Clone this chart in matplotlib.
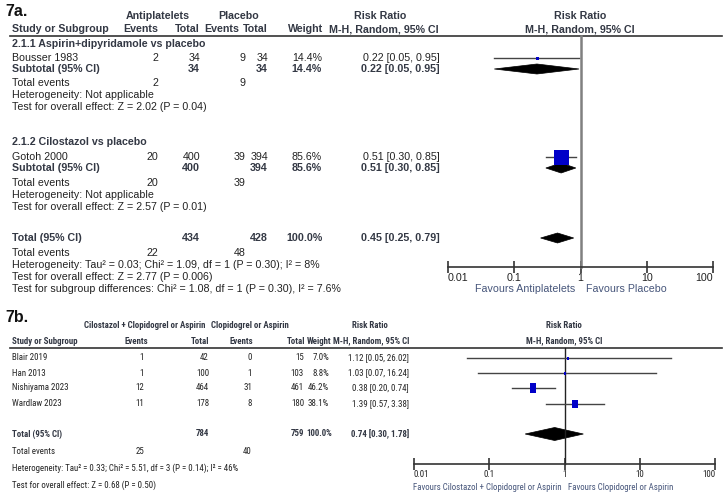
import matplotlib
matplotlib.use("Agg")
import matplotlib.pyplot as plt
from matplotlib.patches import Polygon
from matplotlib.path import Path
from matplotlib.ticker import NullLocator
from matplotlib import font_manager as fm
from matplotlib.font_manager import FontProperties
import logging
logging.getLogger('matplotlib.font_manager').setLevel(logging.ERROR)

# ---------------- data: 7a ----------------
a_groups = ["2.1.1 Aspirin+dipyridamole vs placebo", "2.1.2 Cilostazol vs placebo"]
a_studies = ["Bousser 1983", "Gotoh 2000"]
a_ev_t = [2, 20]
a_tot_t = [34, 400]
a_ev_c = [9, 39]
a_tot_c = [34, 394]
a_weight = [14.4, 85.6]
a_rr = [0.22, 0.51]
a_lo = [0.05, 0.30]
a_hi = [0.95, 0.85]
a_sub_z = ["Test for overall effect: Z = 2.02 (P = 0.04)", "Test for overall effect: Z = 2.57 (P = 0.01)"]
a_total = [0.45, 0.25, 0.79]
a_total_n = [434, 428]
a_total_ev = [22, 48]
a_foot = ["Heterogeneity: Tau\u00b2 = 0.03; Chi\u00b2 = 1.09, df = 1 (P = 0.30); I\u00b2 = 8%",
          "Test for overall effect: Z = 2.77 (P = 0.006)",
          "Test for subgroup differences: Chi\u00b2 = 1.08, df = 1 (P = 0.30), I\u00b2 = 7.6%"]

# ---------------- data: 7b ----------------
b_studies = ["Blair 2019", "Han 2013", "Nishiyama 2023", "Wardlaw 2023"]
b_ev_t = [1, 1, 12, 11]
b_tot_t = [42, 100, 464, 178]
b_ev_c = [0, 1, 31, 8]
b_tot_c = [15, 103, 461, 180]
b_weight = [7.0, 8.8, 46.2, 38.1]
b_rr = [1.12, 1.03, 0.38, 1.39]
b_lo = [0.05, 0.07, 0.20, 0.57]
b_hi = [26.02, 16.24, 0.74, 3.38]
b_total = [0.74, 0.30, 1.78]
b_total_n = [784, 759]
b_total_ev = [25, 40]
b_foot = ["Heterogeneity: Tau\u00b2 = 0.33; Chi\u00b2 = 5.51, df = 3 (P = 0.14); I\u00b2 = 46%",
          "Test for overall effect: Z = 0.68 (P = 0.50)"]

tick_vals = [0.01, 0.1, 1, 10, 100]
tick_labels = ["0.01", "0.1", "1", "10", "100"]

# ---------------- figure ----------------
W, H = 725, 497
fig = plt.figure(figsize=(W / 100, H / 100), dpi=100)
bg = fig.add_axes([0, 0, 1, 1])
bg.set_xlim(0, W)
bg.set_ylim(H, 0)
bg.axis('off')
renderer = fig.canvas.get_renderer()

TXT = '#222222'
BOLD = '#333844'
FAV = '#46557a'
BLUE = '#0000c8'
SA = 7.7


def _sv(s):
    return s if isinstance(s, (int, float)) else fm.stretch_dict.get(s, 500)


def _wv(w):
    return w if isinstance(w, (int, float)) else fm.weight_dict.get(w, 400)


# look for a narrow / condensed sans face for panel 7b
pref = ['Liberation Sans Narrow', 'Arial Narrow', 'Noto Sans', 'Noto Sans Condensed',
        'Noto Sans ExtraCondensed', 'Roboto Condensed', 'Open Sans', 'Open Sans Condensed',
        'DejaVu Sans', 'DejaVu Sans Condensed', 'Roboto', 'Lato', 'Inter']
found = {}
for f in fm.fontManager.ttflist:
    if f.style != 'normal':
        continue
    st = _sv(f.stretch)
    if ('Narrow' in f.name or 'Condensed' in f.name or st < 500) and st >= 200:
        wv = _wv(f.weight)
        key = 'bold' if 650 <= wv <= 750 else ('regular' if 380 <= wv <= 420 else None)
        if key:
            found.setdefault((f.name, st), {})[key] = f.fname
best = None
cands = []
for (nm, st), d in found.items():
    if 'regular' in d and 'bold' in d:
        pi = pref.index(nm) if nm in pref else len(pref)
        cands.append((abs(st - 200), pi, nm, st))
if cands:
    c = sorted(cands)[0]
    best = found[(c[2], c[3])]


def fpB(size, bold=False):
    if best is not None:
        return FontProperties(fname=best['bold' if bold else 'regular'], size=size)
    return FontProperties(family=['Liberation Sans', 'DejaVu Sans'],
                          weight='bold' if bold else 'normal', size=size)


def fpA(size, bold=False):
    return FontProperties(family=['Liberation Sans', 'DejaVu Sans'],
                          weight='bold' if bold else 'normal', size=size)


# fit panel-7b text size to the width of its heterogeneity line
_tt = bg.text(0, 0, b_foot[0], fontproperties=fpB(10))
_w = _tt.get_window_extent(renderer).width
_tt.remove()
SB = max(5.6, min(8.0, 10 * 224.0 / _w))


def t(x, y, s, ha='left', panel='a', size=None, bold=False, color=None):
    if panel == 'a':
        fp = fpA(size or SA, bold)
    else:
        fp = fpB(size or SB, bold)
    bg.text(x, y, s, ha=ha, va='center', fontproperties=fp,
            color=color or (BOLD if bold else TXT))


def fmt_ci(v):
    return f"{v[0]:.2f} [{v[1]:.2f}, {v[2]:.2f}]"


def forest_ax(x0, x1, ytop, ybot, fp, vcolor, vlw):
    ax = fig.add_axes([x0 / W, 1 - ybot / H, (x1 - x0) / W, (ybot - ytop) / H])
    ax.set_xscale('log')
    ax.set_xlim(0.01, 100)
    ax.set_ylim(ybot, ytop)
    ax.patch.set_visible(False)
    for s in ['top', 'right', 'left']:
        ax.spines[s].set_visible(False)
    ax.spines['bottom'].set_color('#333333')
    ax.spines['bottom'].set_linewidth(1.2)
    ax.yaxis.set_visible(False)
    ax.xaxis.set_minor_locator(NullLocator())
    ax.set_xticks(tick_vals, tick_labels)
    ax.tick_params(axis='x', direction='inout', length=8, width=1.2, color='#333333',
                   pad=0.5, labelcolor=TXT)
    labs = ax.get_xticklabels()
    for i, lb in enumerate(labs):
        lb.set_fontproperties(fp)
        lb.set_ha('left' if i == 0 else ('right' if i == len(labs) - 1 else 'center'))
    ax.axvline(1, color=vcolor, lw=vlw, clip_on=False)
    return ax


def diamond(ax, v, y, h):
    est, lo, hi = v
    ax.add_patch(Polygon([(lo, y), (est, y - h / 2), (hi, y), (est, y + h / 2)],
                         closed=True, fc='black', ec='black', lw=0.5, clip_on=False))


# ================= 7a =================
t(5, 11, "7a.", size=11.5, bold=True, color='#111111')
t(158, 16, "Antiplatelets", ha='center', bold=True)
t(239, 16, "Placebo", ha='center', bold=True)
t(380, 16, "Risk Ratio", ha='center', bold=True)
t(580, 16, "Risk Ratio", ha='center', bold=True)
t(12, 29, "Study or Subgroup", bold=True)
t(158, 29, "Events", ha='right', bold=True)
t(200, 29, "Total", ha='right', bold=True)
t(239, 29, "Events", ha='right', bold=True)
t(268, 29, "Total", ha='right', bold=True)
t(323, 29, "Weight", ha='right', bold=True)
t(384, 29, "M-H, Random, 95% CI", ha='center', bold=True)
t(580, 29, "M-H, Random, 95% CI", ha='center', bold=True)
bg.plot([10, 722], [36, 36], color='#333333', lw=1.2)

axa = forest_ax(448, 713, 36, 267, fpA(SA), '#808080', 1.8)

a_rows = [(44, 58, 69, 83, 95, 107), (142, 157, 168, 183, 195, 207)]
for i, (yg, ys, ysub, yte, yhet, ytest) in enumerate(a_rows):
    t(12, yg, a_groups[i], bold=True)
    t(12, ys, a_studies[i])
    t(158, ys, str(a_ev_t[i]), ha='right')
    t(200, ys, str(a_tot_t[i]), ha='right')
    t(246, ys, str(a_ev_c[i]), ha='right')
    t(268, ys, str(a_tot_c[i]), ha='right')
    t(322, ys, f"{a_weight[i]:.1f}%", ha='right')
    t(440, ys, fmt_ci([a_rr[i], a_lo[i], a_hi[i]]), ha='right')
    t(12, ysub, "Subtotal (95% CI)", bold=True)
    t(200, ysub, str(a_tot_t[i]), ha='right', bold=True)
    t(268, ysub, str(a_tot_c[i]), ha='right', bold=True)
    t(322, ysub, f"{a_weight[i]:.1f}%", ha='right', bold=True)
    t(440, ysub, fmt_ci([a_rr[i], a_lo[i], a_hi[i]]), ha='right', bold=True)
    t(12, yte, "Total events")
    t(158, yte, str(a_ev_t[i]), ha='right')
    t(246, yte, str(a_ev_c[i]), ha='right')
    t(12, yhet, "Heterogeneity: Not applicable")
    t(12, ytest, a_sub_z[i])
    # forest marks
    axa.plot([a_lo[i], a_hi[i]], [ys, ys], color='#444444', lw=1.0, clip_on=False)
    sz = max(3.0, 15.0 * a_weight[i] / 85.6)
    axa.plot([a_rr[i]], [ys], marker='s', ms=sz * 0.72, color=BLUE, mec=BLUE, mew=0,
             clip_on=False)
    diamond(axa, [a_rr[i], a_lo[i], a_hi[i]], ysub, 10)

t(12, 238, "Total (95% CI)", bold=True)
t(200, 238, str(a_total_n[0]), ha='right', bold=True)
t(268, 238, str(a_total_n[1]), ha='right', bold=True)
t(323, 238, "100.0%", ha='right', bold=True)
t(440, 238, fmt_ci(a_total), ha='right', bold=True)
diamond(axa, a_total, 238, 10)
t(12, 253, "Total events")
t(158, 253, str(a_total_ev[0]), ha='right')
t(246, 253, str(a_total_ev[1]), ha='right')
t(12, 265, a_foot[0])
t(12, 277, a_foot[1])
t(12, 289, a_foot[2])
t(575, 289, "Favours Antiplatelets", ha='right', color=FAV)
t(586, 289, "Favours Placebo", ha='left', color=FAV)

# ================= 7b =================
t(5, 318, "7b.", size=11.5, bold=True, color='#111111')
t(145, 326, "Cilostazol + Clopidogrel or Aspirin", ha='center', panel='b', bold=True)
t(250, 326, "Clopidogrel or Aspirin", ha='center', panel='b', bold=True)
t(370, 326, "Risk Ratio", ha='center', panel='b', bold=True)
t(564, 326, "Risk Ratio", ha='center', panel='b', bold=True)
t(12, 341, "Study or Subgroup", panel='b', bold=True)
t(148, 341, "Events", ha='right', panel='b', bold=True)
t(209, 341, "Total", ha='right', panel='b', bold=True)
t(253, 341, "Events", ha='right', panel='b', bold=True)
t(305, 341, "Total", ha='right', panel='b', bold=True)
t(331, 341, "Weight", ha='right', panel='b', bold=True)
t(371, 341, "M-H, Random, 95% CI", ha='center', panel='b', bold=True)
t(564, 341, "M-H, Random, 95% CI", ha='center', panel='b', bold=True)
bg.plot([10, 722], [348, 348], color='#333333', lw=1.2)

axb = forest_ax(414, 715, 348, 464, fpB(SB), '#222222', 1.0)

tall = Path([(-0.36, -0.5), (0.36, -0.5), (0.36, 0.5), (-0.36, 0.5), (-0.36, -0.5)],
            [Path.MOVETO, Path.LINETO, Path.LINETO, Path.LINETO, Path.CLOSEPOLY])
b_y = [358, 373, 388, 404]
for i, y in enumerate(b_y):
    t(12, y, b_studies[i], panel='b')
    t(144, y, str(b_ev_t[i]), ha='right', panel='b')
    t(209, y, str(b_tot_t[i]), ha='right', panel='b')
    t(252, y, str(b_ev_c[i]), ha='right', panel='b')
    t(304, y, str(b_tot_c[i]), ha='right', panel='b')
    t(329, y, f"{b_weight[i]:.1f}%", ha='right', panel='b')
    t(409, y, fmt_ci([b_rr[i], b_lo[i], b_hi[i]]), ha='right', panel='b')
    axb.plot([b_lo[i], b_hi[i]], [y, y], color='#444444', lw=1.0, clip_on=False)
    sz = max(3.0, 9.5 * b_weight[i] / 46.2)
    axb.plot([b_rr[i]], [y], marker=tall, ms=sz * 0.72, color=BLUE, mec=BLUE, mew=0,
             clip_on=False)

t(12, 434, "Total (95% CI)", panel='b', bold=True)
t(209, 434, str(b_total_n[0]), ha='right', panel='b', bold=True)
t(304, 434, str(b_total_n[1]), ha='right', panel='b', bold=True)
t(332, 434, "100.0%", ha='right', panel='b', bold=True)
t(409, 434, fmt_ci(b_total), ha='right', panel='b', bold=True)
diamond(axb, b_total, 434, 13)
t(12, 452, "Total events", panel='b')
t(144, 452, str(b_total_ev[0]), ha='right', panel='b')
t(252, 452, str(b_total_ev[1]), ha='right', panel='b')
t(12, 468, b_foot[0], panel='b')
t(12, 485, b_foot[1], panel='b')
t(562, 488, "Favours Cilostazol + Clopidogrel or Aspirin", ha='right', panel='b', color=FAV)
t(568, 488, "Favours Clopidogrel or Aspirin", ha='left', panel='b', color=FAV)

fig.savefig("out.png", dpi=100)
